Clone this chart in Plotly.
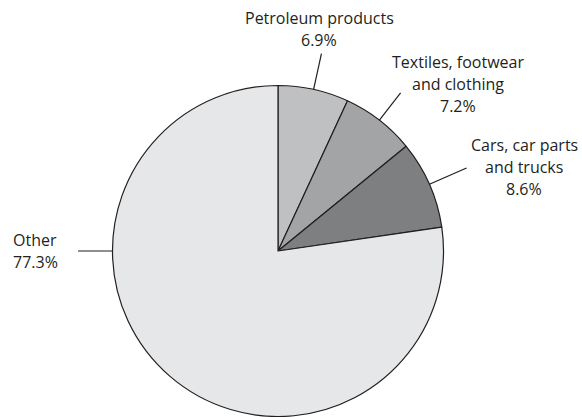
import math
import plotly.graph_objects as go

# ---- data ----
categories = ["Petroleum products", "Textiles, footwear and clothing",
              "Cars, car parts and trucks", "Other"]
shares = [6.9, 7.2, 8.6, 77.3]
label_lines = [["Petroleum products", "6.9%"],
               ["Textiles, footwear", "and clothing", "7.2%"],
               ["Cars, car parts", "and trucks", "8.6%"],
               ["Other", "77.3%"]]

# ---- style / layout ----
W, H = 582, 417
CX, CY, R = 278, 251, 165.5
colors = ["#bfc0c2", "#a3a4a6", "#7e7f81", "#e6e7e8"]
edge_color = "#231f20"
FONT = "Open Sans"
FS = 16
LINE_H = 22
# leader: optional fixed angle (deg), outer radius; text block centre (px)
leader_override = [None, None, None, 270.0]
leader_outer = [202, 200, 206, 200]
text_centre = [(319, 29), (458, 84), (524, 167), (35, 251)]


def px_to_paper(x, y):
    return x / W, 1 - y / H


fig = go.Figure(go.Pie(
    labels=categories, values=shares, sort=False, direction="clockwise",
    rotation=0, textinfo="none", hoverinfo="label+percent",
    marker=dict(colors=colors, line=dict(color=edge_color, width=1.2)),
    domain=dict(x=[(CX - R) / W, (CX + R) / W],
                y=[(H - CY - R) / H, (H - CY + R) / H]),
    showlegend=False,
))

total = sum(shares)
cum = 0.0
shapes, annotations = [], []
for i, v in enumerate(shares):
    mid = (cum + v / 2) / total * 360.0
    cum += v
    ang = leader_override[i] if leader_override[i] is not None else mid
    a = math.radians(ang)
    x0, y0 = CX + R * math.sin(a), CY - R * math.cos(a)
    ro = leader_outer[i]
    x1, y1 = CX + ro * math.sin(a), CY - ro * math.cos(a)
    p0, p1 = px_to_paper(x0, y0), px_to_paper(x1, y1)
    shapes.append(dict(type="line", xref="paper", yref="paper",
                       x0=p0[0], y0=p0[1], x1=p1[0], y1=p1[1],
                       line=dict(color=edge_color, width=1.2)))
    tx, ty = text_centre[i]
    n = len(label_lines[i])
    for k, t in enumerate(label_lines[i]):
        ly = ty + (k - (n - 1) / 2) * LINE_H
        px, py = px_to_paper(tx, ly)
        annotations.append(dict(x=px, y=py, xref="paper", yref="paper",
                                text=t, showarrow=False, xanchor="center",
                                yanchor="middle",
                                font=dict(family=FONT, size=FS, color="#231f20")))

fig.update_layout(width=W, height=H, margin=dict(l=0, r=0, t=0, b=0),
                  paper_bgcolor="white", plot_bgcolor="white",
                  shapes=shapes, annotations=annotations)
fig.write_html("out.html")
